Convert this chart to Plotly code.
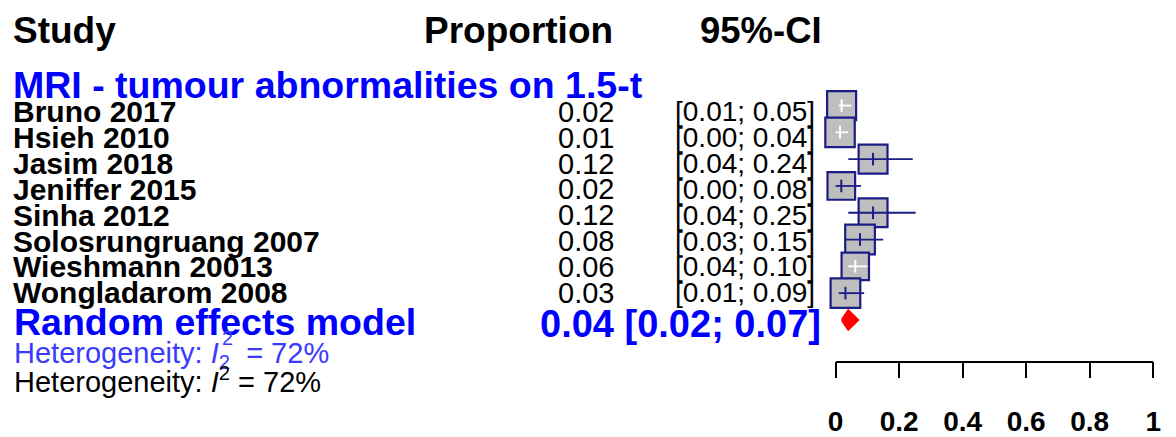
import math
import plotly.graph_objects as go

# ---------------- data ----------------
studies = ["Bruno 2017", "Hsieh 2010", "Jasim 2018", "Jeniffer 2015", "Sinha 2012",
           "Solosrungruang 2007", "Wieshmann 20013", "Wongladarom 2008"]
proportions = [0.019, 0.014, 0.118, 0.018, 0.118, 0.077, 0.062, 0.031]
ci_lower = [0.01, 0.00, 0.04, 0.00, 0.04, 0.03, 0.04, 0.01]
ci_upper = [0.05, 0.04, 0.243, 0.08, 0.252, 0.15, 0.10, 0.09]
weights = [13.0, 13.4, 12.9, 11.8, 12.9, 13.6, 11.6, 13.6]
subgroup_label = "MRI - tumour abnormalities on 1.5-t"
re_est, re_lower, re_upper = 0.04, 0.02, 0.07
i2_text = "72%"
axis_ticks = [0, 0.2, 0.4, 0.6, 0.8, 1]
axis_ticktext = ["0", "0.2", "0.4", "0.6", "0.8", "1"]

# ---------------- layout geometry ----------------
W, H = 1176, 437
X0_PX, X1_PX = 839, 1161          # pixel positions of 0 and 1 on the forest axis
PX_PER_UNIT = X1_PX - X0_PX
ROW0_PX, ROW_STEP = 108, 27.43    # pixel centre of first study box row and spacing
TXT0_PX, TXT_STEP = 114.5, 26.45  # pixel centre of first study text row and spacing
xr = [-X0_PX / PX_PER_UNIT, (W - X0_PX) / PX_PER_UNIT]
yr = [(H - ROW0_PX) / ROW_STEP, -ROW0_PX / ROW_STEP]

NAVY = "#1c1c86"
FONT = "Liberation Sans, Arial, sans-serif"
LEFT = 3

def px(x):
    return x / W

def py(y):
    return 1 - y / H

fig = go.Figure()

rows = list(range(len(studies)))
sizes = [29 * math.sqrt(w / 13.0) for w in weights]

# boxes
fig.add_trace(go.Scatter(
    x=proportions, y=rows, mode="markers",
    marker=dict(symbol="square", size=sizes, color="#BEBEBE", opacity=1,
                line=dict(color=NAVY, width=2.2)),
    hoverinfo="skip", showlegend=False, cliponaxis=False))

# CI lines (white if fully hidden inside the box)
for r, p, lo, hi, s in zip(rows, proportions, ci_lower, ci_upper, sizes):
    half = (s / 2 + 1) / PX_PER_UNIT
    inside = (lo >= p - half) and (hi <= p + half)
    col = "white" if inside else NAVY
    fig.add_trace(go.Scatter(x=[lo, hi], y=[r, r], mode="lines",
                             line=dict(color=col, width=1.8),
                             hoverinfo="skip", showlegend=False, cliponaxis=False))
    fig.add_trace(go.Scatter(x=[p], y=[r], mode="markers",
                             marker=dict(symbol="line-ns", size=9, opacity=1,
                                         line=dict(color=col, width=2)),
                             hoverinfo="skip", showlegend=False, cliponaxis=False))

# random effects diamond
re_row = len(studies)
dh = 0.35
fig.add_trace(go.Scatter(
    x=[re_lower, re_est, re_upper, re_est, re_lower],
    y=[re_row, re_row - dh, re_row, re_row + dh, re_row],
    mode="lines", fill="toself", fillcolor="red",
    line=dict(color="red", width=2.5), hoverinfo="skip", showlegend=False))

# dummy trace for the bottom axis
fig.add_trace(go.Scatter(x=[0, 1], y=[None, None], xaxis="x2", yaxis="y",
                         mode="markers", hoverinfo="skip", showlegend=False))

ann = []

def text(x, y, s, size, color="black", anchor="left"):
    ann.append(dict(x=px(x), y=py(y), xref="paper", yref="paper", text=s, showarrow=False,
                    xanchor=anchor, yanchor="middle",
                    font=dict(family=FONT, size=size, color=color)))

# header
text(LEFT, 31, "<b>Study</b>", 37)
text(615, 31, "<b>Proportion</b>", 37, anchor="right")
text(827, 31, "<b>95%-CI</b>", 36.5, anchor="right")
# subgroup
text(LEFT, 87, "<b>" + subgroup_label + "</b>", 37.5, color="#0000FF")

# rows
for r, name, p, lo, hi in zip(rows, studies, proportions, ci_lower, ci_upper):
    ty = TXT0_PX + TXT_STEP * r
    text(LEFT, ty, "<b>" + name + "</b>", 30)
    text(616, ty, f"{p:.2f}", 29, anchor="right")
    text(820, ty, f"[{lo:.2f}; {hi:.2f}]", 28, anchor="right")

# random effects
text(LEFT + 1, 330, "<b>Random effects model</b>", 37.5, color="#0000FF")
text(826, 332, f"<b>{re_est:.2f} [{re_lower:.2f}; {re_upper:.2f}]</b>", 38,
     color="#0000FF", anchor="right")

# heterogeneity
text(LEFT + 1, 363, "Heterogeneity: <i>I</i><sub>2</sub>&nbsp; = " + i2_text, 29,
     color="#3a3aff")
text(215, 346, "2", 20, color="#3a3aff")
text(LEFT + 1, 389, "Heterogeneity: <i>I</i><sup>2</sup> = " + i2_text, 29)

fig.update_layout(
    width=W, height=H, margin=dict(l=0, r=0, t=0, b=0),
    paper_bgcolor="white", plot_bgcolor="rgba(0,0,0,0)",
    xaxis=dict(range=xr, visible=False, domain=[0, 1]),
    yaxis=dict(range=yr, visible=False, domain=[0, 1]),
    xaxis2=dict(domain=[X0_PX / W, X1_PX / W], range=[0, 1], anchor="free",
                position=py(370), side="bottom", showline=True, linecolor="black",
                linewidth=1.5, ticks="outside", ticklen=16, tickwidth=1.5,
                tickcolor="black", tickvals=axis_ticks, ticktext=axis_ticktext,
                showgrid=False, zeroline=False, ticklabelstandoff=19,
                tickfont=dict(family=FONT, size=28, color="black", weight="bold")),
    annotations=ann,
)

fig.write_html("out.html", config={"displayModeBar": False},
               post_script="document.body.style.margin='0';")
